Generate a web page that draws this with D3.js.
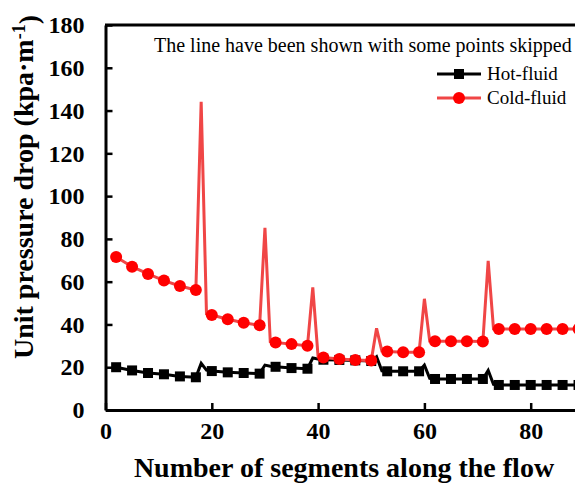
<!DOCTYPE html>
<html>
<head>
<meta charset="utf-8">
<script src="https://cdn.jsdelivr.net/npm/d3@7"></script>
<style>
  html, body { margin: 0; padding: 0; background: #fff; overflow: hidden; }
  svg { display: block; }
</style>
</head>
<body>
<svg id="chart" width="575" height="488"></svg>
<script>
// Segment index along the flow (line vertices)
const segments = [2, 5, 8, 11, 14, 17, 18, 19, 20, 23, 26, 29, 30, 31, 32, 35, 38, 39, 40,
  41, 44, 47, 50, 51, 52, 53, 56, 59, 60, 61, 62, 65, 68, 71, 72, 73, 74, 77, 80, 83, 86, 89, 92];

// Unit pressure drop, hot side (kPa/m)
const hotFluid = [20.0, 18.5, 17.3, 16.7, 15.7, 15.3, 21.8, 18.6, 18.2, 17.6, 17.3, 17.0, 21.0, 20.5, 20.2,
  19.6, 19.3, 24.3, 23.8, 23.5, 23.4, 23.2, 22.9, 24.9, 18.3, 18.1, 18.1, 18.1, 21.0, 14.8, 14.5,
  14.5, 14.5, 14.5, 18.5, 12.0, 11.7, 11.7, 11.7, 11.7, 11.7, 11.7, 11.7];

// Unit pressure drop, cold side (kPa/m)
const coldFluid = [71.5, 67.0, 63.6, 60.5, 58.0, 56.1, 144.1, 45.0, 44.4, 42.4, 40.8, 39.6, 85.2, 32.0, 31.6,
  30.8, 30.0, 57.3, 24.8, 24.5, 23.8, 23.4, 23.1, 38.2, 27.5, 27.3, 27.0, 27.0, 52.0, 32.2, 32.1,
  32.1, 32.1, 32.0, 69.7, 38.0, 37.9, 37.9, 37.9, 37.9, 37.9, 37.9, 37.9];

// Segments that carry a marker (the rest are drawn as line only)
const markedSegments = [2, 5, 8, 11, 14, 17, 20, 23, 26, 29, 32, 35, 38, 41, 44, 47, 50, 53, 56, 59,
  62, 65, 68, 71, 74, 77, 80, 83, 86, 89];

const xTicks = [0, 20, 40, 60, 80];
const yTicks = [0, 20, 40, 60, 80, 100, 120, 140, 160, 180];

const seriesNames = ["Hot-fluid", "Cold-fluid"];
const noteText = "The line have been shown with some points skipped";
const xTitle = "Number of segments along the flow";

const FONT = "'Liberation Serif', 'Times New Roman', Times, serif";
const svg = d3.select("#chart");

const x = d3.scaleLinear().domain([0, 100]).range([105.5, 637]);
const y = d3.scaleLinear().domain([0, 180]).range([410, 25]);

const hotColor = "#000000";
const coldLine = "#f04646";
const coldMarker = "#ff0000";

// Frame: top border line
svg.append("line")
  .attr("x1", 105).attr("x2", 575).attr("y1", y(180)).attr("y2", y(180))
  .attr("stroke", "#000").attr("stroke-width", 3);

// Axes with inward ticks
const xAxis = svg.append("g")
  .attr("transform", `translate(0,${y(0)})`)
  .call(d3.axisBottom(x).tickValues(xTicks).tickSizeInner(-7).tickSizeOuter(0).tickPadding(12));
const yAxis = svg.append("g")
  .attr("transform", `translate(${x(0)},0)`)
  .call(d3.axisLeft(y).tickValues(yTicks).tickSizeInner(-7).tickSizeOuter(0).tickPadding(21));

[xAxis, yAxis].forEach(g => {
  g.attr("font-family", null).attr("font-size", null);
  g.select(".domain").attr("stroke", "#000").attr("stroke-width", 3);
  g.selectAll(".tick line").attr("stroke", "#000").attr("stroke-width", 2.5);
  g.selectAll(".tick text")
    .attr("fill", "#000")
    .style("font-family", FONT)
    .style("font-weight", "bold")
    .style("font-size", "24px");
});

// Data lines
const rows = segments.map((s, i) => ({ s, hot: hotFluid[i], cold: coldFluid[i] }));
const marked = rows.filter(r => markedSegments.includes(r.s));

const lineHot = d3.line().x(d => x(d.s)).y(d => y(d.hot));
const lineCold = d3.line().x(d => x(d.s)).y(d => y(d.cold));

svg.append("path").datum(rows)
  .attr("d", lineHot).attr("fill", "none")
  .attr("stroke", hotColor).attr("stroke-width", 3).attr("stroke-linejoin", "miter");

svg.selectAll("rect.hot").data(marked).join("rect")
  .attr("class", "hot")
  .attr("x", d => x(d.s) - 5).attr("y", d => y(d.hot) - 5)
  .attr("width", 10).attr("height", 10)
  .attr("fill", hotColor);

svg.append("path").datum(rows)
  .attr("d", lineCold).attr("fill", "none")
  .attr("stroke", coldLine).attr("stroke-width", 3).attr("stroke-linejoin", "miter");

svg.selectAll("circle.cold").data(marked).join("circle")
  .attr("class", "cold")
  .attr("cx", d => x(d.s)).attr("cy", d => y(d.cold)).attr("r", 6)
  .attr("fill", coldMarker);

// Note text
svg.append("text")
  .attr("x", 154).attr("y", 52)
  .style("font-family", FONT).style("font-size", "20px")
  .attr("fill", "#000")
  .text(noteText);

// Legend
const legend = svg.append("g");
const legendY = [74, 98];
seriesNames.forEach((name, i) => {
  const g = legend.append("g").attr("transform", `translate(0,${legendY[i]})`);
  g.append("line").attr("x1", 437).attr("x2", 481).attr("y1", 0).attr("y2", 0)
    .attr("stroke", i === 0 ? hotColor : coldLine).attr("stroke-width", 3);
  if (i === 0) {
    g.append("rect").attr("x", 454).attr("y", -5).attr("width", 10).attr("height", 10).attr("fill", hotColor);
  } else {
    g.append("circle").attr("cx", 459).attr("cy", 0).attr("r", 6).attr("fill", coldMarker);
  }
  g.append("text").attr("x", 487).attr("y", 0).attr("dy", "0.33em")
    .style("font-family", FONT).style("font-size", "19px")
    .attr("fill", "#000").text(name);
});

// Axis titles
svg.append("text")
  .attr("x", 344).attr("y", 477)
  .attr("text-anchor", "middle")
  .style("font-family", FONT).style("font-weight", "bold").style("font-size", "28px")
  .attr("fill", "#000")
  .text(xTitle);

const yTitle = svg.append("text")
  .attr("transform", "translate(33,187) rotate(-90)")
  .attr("text-anchor", "middle")
  .style("font-family", FONT).style("font-weight", "bold").style("font-size", "28px")
  .attr("fill", "#000");
yTitle.append("tspan").text("Unit pressure drop (kpa\u00b7m");
yTitle.append("tspan").attr("dy", "-0.45em").style("font-size", "18px").text("-1");
yTitle.append("tspan").attr("dy", "0.45em").text(")");
</script>
</body>
</html>
